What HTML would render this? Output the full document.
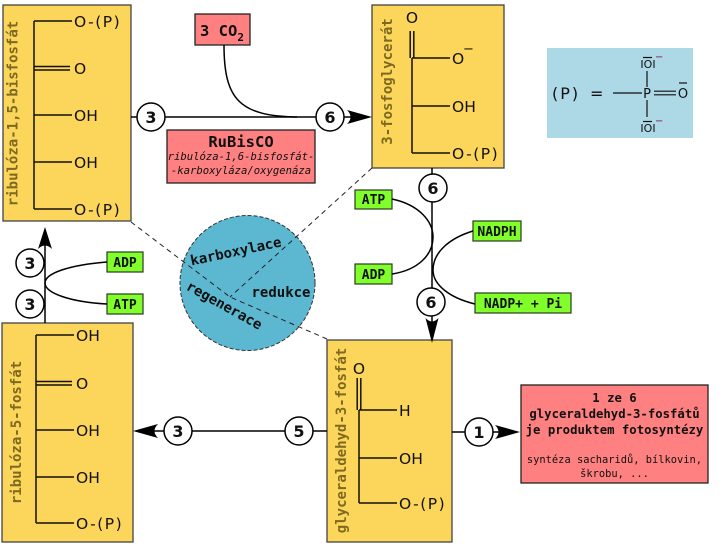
<!DOCTYPE html>
<html>
<head>
<meta charset="utf-8">
<style>
html,body{margin:0;padding:0;background:#fff;}
svg{display:block;}
.mono{font-family:"DejaVu Sans Mono","Liberation Mono",monospace;font-weight:bold;}
.sans{font-family:"DejaVu Sans","Liberation Sans",sans-serif;}
.chem{font-family:"DejaVu Sans","Liberation Sans",sans-serif;font-size:15.5px;fill:#111;}
.lbl{font-family:"DejaVu Sans Mono","Liberation Mono",monospace;font-weight:bold;font-size:14px;fill:#7d6a20;}
.num{font-family:"DejaVu Sans","Liberation Sans",sans-serif;font-weight:bold;font-size:16px;fill:#111;}
</style>
</head>
<body>
<svg width="725" height="549" viewBox="0 0 725 549" xmlns="http://www.w3.org/2000/svg">
<rect width="725" height="549" fill="#fff"/>

<!-- ===== Boxes ===== -->
<rect x="3" y="5" width="128" height="216" fill="#fcd55b" stroke="#444" stroke-width="1.3"/>
<rect x="372" y="5" width="132" height="163" fill="#fcd55b" stroke="#444" stroke-width="1.3"/>
<rect x="2" y="323" width="131" height="219" fill="#fcd55b" stroke="#444" stroke-width="1.3"/>
<rect x="327" y="340" width="125" height="202" fill="#fcd55b" stroke="#444" stroke-width="1.3"/>

<!-- legend -->
<rect x="547" y="48" width="146" height="90" fill="#add8e6"/>

<!-- red boxes -->
<rect x="195" y="14" width="55" height="31" fill="#ff8080" stroke="#222" stroke-width="1.3"/>
<rect x="167" y="130" width="148" height="53" fill="#ff8080" stroke="#222" stroke-width="1.3"/>
<rect x="521" y="385" width="187" height="98" fill="#ff8080" stroke="#222" stroke-width="1.3"/>

<!-- green boxes -->
<rect x="355" y="190" width="37" height="19" fill="#80ff2a" stroke="#2a3a20" stroke-width="1.2"/>
<rect x="355" y="264" width="37" height="20" fill="#80ff2a" stroke="#2a3a20" stroke-width="1.2"/>
<rect x="473" y="221" width="48" height="20" fill="#80ff2a" stroke="#2a3a20" stroke-width="1.2"/>
<rect x="475" y="293" width="96" height="20" fill="#80ff2a" stroke="#2a3a20" stroke-width="1.2"/>
<rect x="107" y="252" width="36" height="20" fill="#80ff2a" stroke="#2a3a20" stroke-width="1.2"/>
<rect x="107" y="294" width="36" height="20" fill="#80ff2a" stroke="#2a3a20" stroke-width="1.2"/>

<!-- ===== Big circle ===== -->
<circle cx="247.5" cy="283" r="67.5" fill="#5cb7d0" stroke="#333" stroke-width="1" stroke-dasharray="4,2"/>
<g stroke="#222" stroke-width="1" stroke-dasharray="5,4" fill="none">
  <polyline points="131,222 230,297 327,339"/>
  <line x1="372" y1="168" x2="230" y2="297"/>
</g>
<text class="mono" font-size="14" fill="#111" text-anchor="middle" dominant-baseline="central" transform="translate(236,252) rotate(-12)">karboxylace</text>
<text class="mono" font-size="14" fill="#111" text-anchor="middle" dominant-baseline="central" transform="translate(224,306) rotate(29)">regenerace</text>
<text class="mono" font-size="14" fill="#111" text-anchor="middle" dominant-baseline="central" x="281" y="293">redukce</text>

<!-- ===== Connectors ===== -->
<g stroke="#000" stroke-width="1.5" fill="none">
  <!-- top horizontal -->
  <line x1="131" y1="117" x2="352" y2="117"/>
  <path d="M224,45 C224,100 240,116 297,117"/>
  <!-- middle vertical -->
  <line x1="432" y1="168" x2="432" y2="325"/>
  <path d="M392,199 C420,205 433,222 433,237 C433,255 418,270 392,274"/>
  <path d="M473,231 C450,238 433,252 433,270 C433,285 450,298 475,304"/>
  <!-- left vertical -->
  <line x1="45" y1="323" x2="45" y2="240"/>
  <path d="M107,262 C70,265 45,273 45,283 C45,293 70,302 107,304"/>
  <!-- bottom horizontal left -->
  <line x1="327" y1="431" x2="150" y2="431"/>
  <!-- bottom right -->
  <line x1="452" y1="432" x2="505" y2="432"/>
</g>

<!-- arrowheads -->
<g fill="#000">
  <path d="M372,117 L347,110 Q354,117 347,124 Z"/>
  <path d="M432,343 L425.5,318 Q432,325 438.5,318 Z"/>
  <path d="M45,227 L38,249 Q45,242 52,249 Z"/>
  <path d="M133,431 L158,424 Q151,431 158,438 Z"/>
  <path d="M520,432 L495,425 Q502,432 495,439 Z"/>
</g>

<!-- number circles -->
<g stroke="#000" stroke-width="1.5" fill="#fff">
  <circle cx="151" cy="117" r="14"/>
  <circle cx="330" cy="117" r="14"/>
  <circle cx="433" cy="188" r="14"/>
  <circle cx="431" cy="302" r="14"/>
  <circle cx="30" cy="263" r="14"/>
  <circle cx="30" cy="304" r="14"/>
  <circle cx="178" cy="431" r="14"/>
  <circle cx="299" cy="431" r="14"/>
  <circle cx="479" cy="432" r="14"/>
</g>
<g class="num" text-anchor="middle">
  <text x="151" y="123">3</text>
  <text x="330" y="123">6</text>
  <text x="433" y="194">6</text>
  <text x="431" y="308">6</text>
  <text x="30" y="269">3</text>
  <text x="30" y="310">3</text>
  <text x="178" y="437">3</text>
  <text x="299" y="437">5</text>
  <text x="479" y="438">1</text>
</g>

<!-- ===== Structures ===== -->
<g stroke="#111" stroke-width="1.5" fill="none">
  <!-- top-left: ribulose-1,5-bisphosphate -->
  <line x1="34" y1="21" x2="34" y2="209"/>
  <line x1="34" y1="21" x2="72" y2="21"/>
  <line x1="34" y1="66.5" x2="70" y2="66.5"/>
  <line x1="34" y1="70" x2="70" y2="70"/>
  <line x1="34" y1="115" x2="72" y2="115"/>
  <line x1="34" y1="162" x2="72" y2="162"/>
  <line x1="34" y1="209" x2="72" y2="209"/>
  <!-- top-right: 3-phosphoglycerate -->
  <line x1="412" y1="58" x2="412" y2="153"/>
  <line x1="410.2" y1="31" x2="410.2" y2="58"/>
  <line x1="413.8" y1="31" x2="413.8" y2="58"/>
  <line x1="412" y1="58" x2="450" y2="58"/>
  <line x1="412" y1="106" x2="450" y2="106"/>
  <line x1="412" y1="153" x2="450" y2="153"/>
  <!-- bottom-left: ribulose-5-phosphate -->
  <line x1="36" y1="335" x2="36" y2="523"/>
  <line x1="36" y1="335" x2="74" y2="335"/>
  <line x1="36" y1="381.5" x2="72" y2="381.5"/>
  <line x1="36" y1="385" x2="72" y2="385"/>
  <line x1="36" y1="430" x2="74" y2="430"/>
  <line x1="36" y1="477" x2="74" y2="477"/>
  <line x1="36" y1="523" x2="74" y2="523"/>
  <!-- bottom-middle: G3P -->
  <line x1="359" y1="410" x2="359" y2="503"/>
  <line x1="357.2" y1="378" x2="357.2" y2="410"/>
  <line x1="360.8" y1="378" x2="360.8" y2="410"/>
  <line x1="359" y1="410" x2="397" y2="410"/>
  <line x1="359" y1="458" x2="397" y2="458"/>
  <line x1="359" y1="503" x2="397" y2="503"/>
</g>

<g class="chem">
  <text x="74" y="27" letter-spacing="1.5">O-(P)</text>
  <text x="74" y="74">O</text>
  <text x="74" y="121">OH</text>
  <text x="74" y="168">OH</text>
  <text x="74" y="215" letter-spacing="1.5">O-(P)</text>

  <text x="412" y="23" text-anchor="middle">O</text>
  <text x="452" y="64">O</text>
  <text x="463" y="53" font-size="13">−</text>
  <text x="452" y="112">OH</text>
  <text x="452" y="159" letter-spacing="1.5">O-(P)</text>

  <text x="76" y="341">OH</text>
  <text x="76" y="389">O</text>
  <text x="76" y="436">OH</text>
  <text x="76" y="483">OH</text>
  <text x="76" y="529" letter-spacing="1.5">O-(P)</text>

  <text x="359" y="374" text-anchor="middle">O</text>
  <text x="399" y="416">H</text>
  <text x="399" y="464">OH</text>
  <text x="399" y="509" letter-spacing="1.5">O-(P)</text>
</g>

<!-- rotated labels -->
<text class="lbl" text-anchor="middle" transform="translate(17.5,113.5) rotate(-90)">ribulóza-1,5-bisfosfát</text>
<text class="lbl" text-anchor="middle" transform="translate(392,81.5) rotate(-90)">3-fosfoglycerát</text>
<text class="lbl" text-anchor="middle" transform="translate(21,432.5) rotate(-90)">ribulóza-5-fosfát</text>
<text class="lbl" text-anchor="middle" transform="translate(346,440.5) rotate(-90)">glyceraldehyd-3-fosfát</text>

<!-- ===== Legend ===== -->
<text class="sans" font-size="16" x="552" y="99" letter-spacing="2" fill="#111">(P)</text>
<text class="sans" font-size="16" x="590" y="99" fill="#111">=</text>
<g stroke="#111" stroke-width="1.2" fill="none">
  <line x1="613" y1="93" x2="642" y2="93"/>
  <line x1="647" y1="71" x2="647" y2="87"/>
  <line x1="647" y1="100" x2="647" y2="117"/>
  <line x1="654" y1="91.2" x2="676" y2="91.2"/>
  <line x1="654" y1="94.8" x2="676" y2="94.8"/>
  <line x1="679" y1="83" x2="687" y2="83"/>
  <line x1="643" y1="57.5" x2="652" y2="57.5"/>
  <line x1="643" y1="121.5" x2="652" y2="121.5"/>
</g>
<text class="sans" font-size="13" x="647" y="98" text-anchor="middle" fill="#111">P</text>
<text class="sans" font-size="13" x="683" y="98" text-anchor="middle" fill="#111">O</text>
<text class="sans" font-size="11" x="648" y="68" text-anchor="middle" fill="#111">IOI</text>
<text class="sans" font-size="11" x="648" y="132" text-anchor="middle" fill="#111">IOI</text>
<text class="sans" font-size="10" x="655" y="60" fill="#8a1a3a">−</text>
<text class="sans" font-size="10" x="655" y="124" fill="#8a1a3a">−</text>

<!-- ===== Red box texts ===== -->
<text class="mono" font-size="15.5" x="200" y="36" fill="#111">3 CO<tspan font-size="11" dy="5">2</tspan></text>

<text class="mono" font-size="15.5" x="241" y="147" text-anchor="middle" fill="#111">RuBisCO</text>
<text font-family="DejaVu Sans Mono, Liberation Mono, monospace" font-style="italic" font-size="10.6" x="241" y="160" text-anchor="middle" fill="#111">ribulóza-1,6-bisfosfát-</text>
<text font-family="DejaVu Sans Mono, Liberation Mono, monospace" font-style="italic" font-size="10.6" x="241" y="174" text-anchor="middle" fill="#111">-karboxyláza/oxygenáza</text>

<g text-anchor="middle" fill="#111">
  <text class="mono" font-size="12.3" x="614.5" y="402">1 ze 6</text>
  <text class="mono" font-size="12.3" x="614.5" y="418">glyceraldehyd-3-fosfátů</text>
  <text class="mono" font-size="12.3" x="614.5" y="434">je produktem fotosyntézy</text>
  <text font-family="DejaVu Sans Mono, Liberation Mono, monospace" font-size="10.4" x="614.5" y="463">syntéza sacharidů, bílkovin,</text>
  <text font-family="DejaVu Sans Mono, Liberation Mono, monospace" font-size="10.4" x="614.5" y="477">škrobu, ...</text>
</g>

<!-- green labels -->
<g class="mono" font-size="13" fill="#111" text-anchor="middle">
  <text x="373.5" y="204">ATP</text>
  <text x="373.5" y="279">ADP</text>
  <text x="497" y="236">NADPH</text>
  <text x="523" y="308">NADP+ + Pi</text>
  <text x="125" y="267">ADP</text>
  <text x="125" y="309">ATP</text>
</g>
</svg>
</body>
</html>
